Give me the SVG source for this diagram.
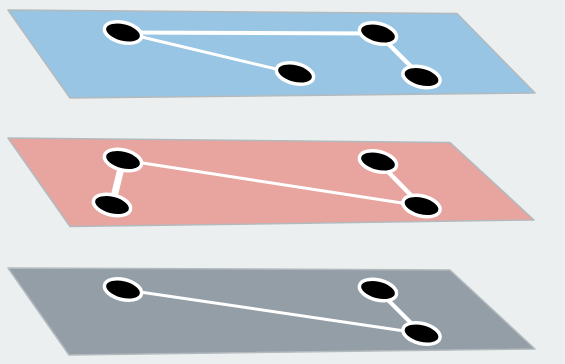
<svg xmlns="http://www.w3.org/2000/svg" width="565" height="364" viewBox="0 0 565 364">
  <defs>
    <style>
      .plane { stroke: #b3babe; stroke-width: 1.5; stroke-linejoin: round; }
      .blue { fill: #97c5e3; }
      .pink { fill: #e8a49f; }
      .gray { fill: #949ea7; }
      .edge { stroke: #ffffff; stroke-linecap: round; fill: none; }
      .node { fill: #000000; stroke: #ffffff; stroke-width: 3.5; }
    </style>
  </defs>
  <rect width="565" height="364" fill="#ebeff0"/>

  <!-- Top layer (blue) -->
  <g id="layer-top">
    <polygon class="plane blue" points="8,10 457,13.5 535,93 70,98"/>
    <g id="edges-top">
      <line class="edge" x1="123" y1="32.5" x2="378" y2="33.5" stroke-width="4"/>
      <line class="edge" x1="123" y1="32.5" x2="295" y2="73.5" stroke-width="3"/>
      <line class="edge" x1="378" y1="33.5" x2="421.5" y2="77" stroke-width="4.5"/>
    </g>
    <g id="top-n1"><ellipse class="node" cx="123" cy="32.5" rx="19" ry="10" transform="rotate(14 123 32.5)"/></g>
    <g id="top-n2"><ellipse class="node" cx="295" cy="73.5" rx="19" ry="10" transform="rotate(14 295 73.5)"/></g>
    <g id="top-n3"><ellipse class="node" cx="378" cy="33.5" rx="19" ry="10" transform="rotate(14 378 33.5)"/></g>
    <g id="top-n4"><ellipse class="node" cx="421.5" cy="77" rx="19" ry="10" transform="rotate(14 421.5 77)"/></g>
  </g>

  <!-- Middle layer (pink) -->
  <g id="layer-middle">
    <polygon class="plane pink" points="8,138 450,142.5 534,220 70,226.5"/>
    <g id="edges-middle">
      <line class="edge" x1="123" y1="160" x2="112" y2="205" stroke-width="7"/>
      <line class="edge" x1="123" y1="160" x2="421.5" y2="206" stroke-width="3"/>
      <line class="edge" x1="378" y1="161.5" x2="421.5" y2="206" stroke-width="4.5"/>
    </g>
    <g id="mid-n1"><ellipse class="node" cx="123" cy="160" rx="19" ry="10" transform="rotate(14 123 160)"/></g>
    <g id="mid-n2"><ellipse class="node" cx="112" cy="205" rx="19" ry="10" transform="rotate(14 112 205)"/></g>
    <g id="mid-n3"><ellipse class="node" cx="378" cy="161.5" rx="19" ry="10" transform="rotate(14 378 161.5)"/></g>
    <g id="mid-n4"><ellipse class="node" cx="421.5" cy="206" rx="19" ry="10" transform="rotate(14 421.5 206)"/></g>
  </g>

  <!-- Bottom layer (gray) -->
  <g id="layer-bottom">
    <polygon class="plane gray" points="8,268 450,270 535,349 69,355"/>
    <g id="edges-bottom">
      <line class="edge" x1="123" y1="289.5" x2="421.5" y2="333.5" stroke-width="3"/>
      <line class="edge" x1="378" y1="290" x2="421.5" y2="333.5" stroke-width="4"/>
    </g>
    <g id="bot-n1"><ellipse class="node" cx="123" cy="289.5" rx="19" ry="10" transform="rotate(14 123 289.5)"/></g>
    <g id="bot-n2"><ellipse class="node" cx="378" cy="290" rx="19" ry="10" transform="rotate(14 378 290)"/></g>
    <g id="bot-n3"><ellipse class="node" cx="421.5" cy="333.5" rx="19" ry="10" transform="rotate(14 421.5 333.5)"/></g>
  </g>
</svg>
